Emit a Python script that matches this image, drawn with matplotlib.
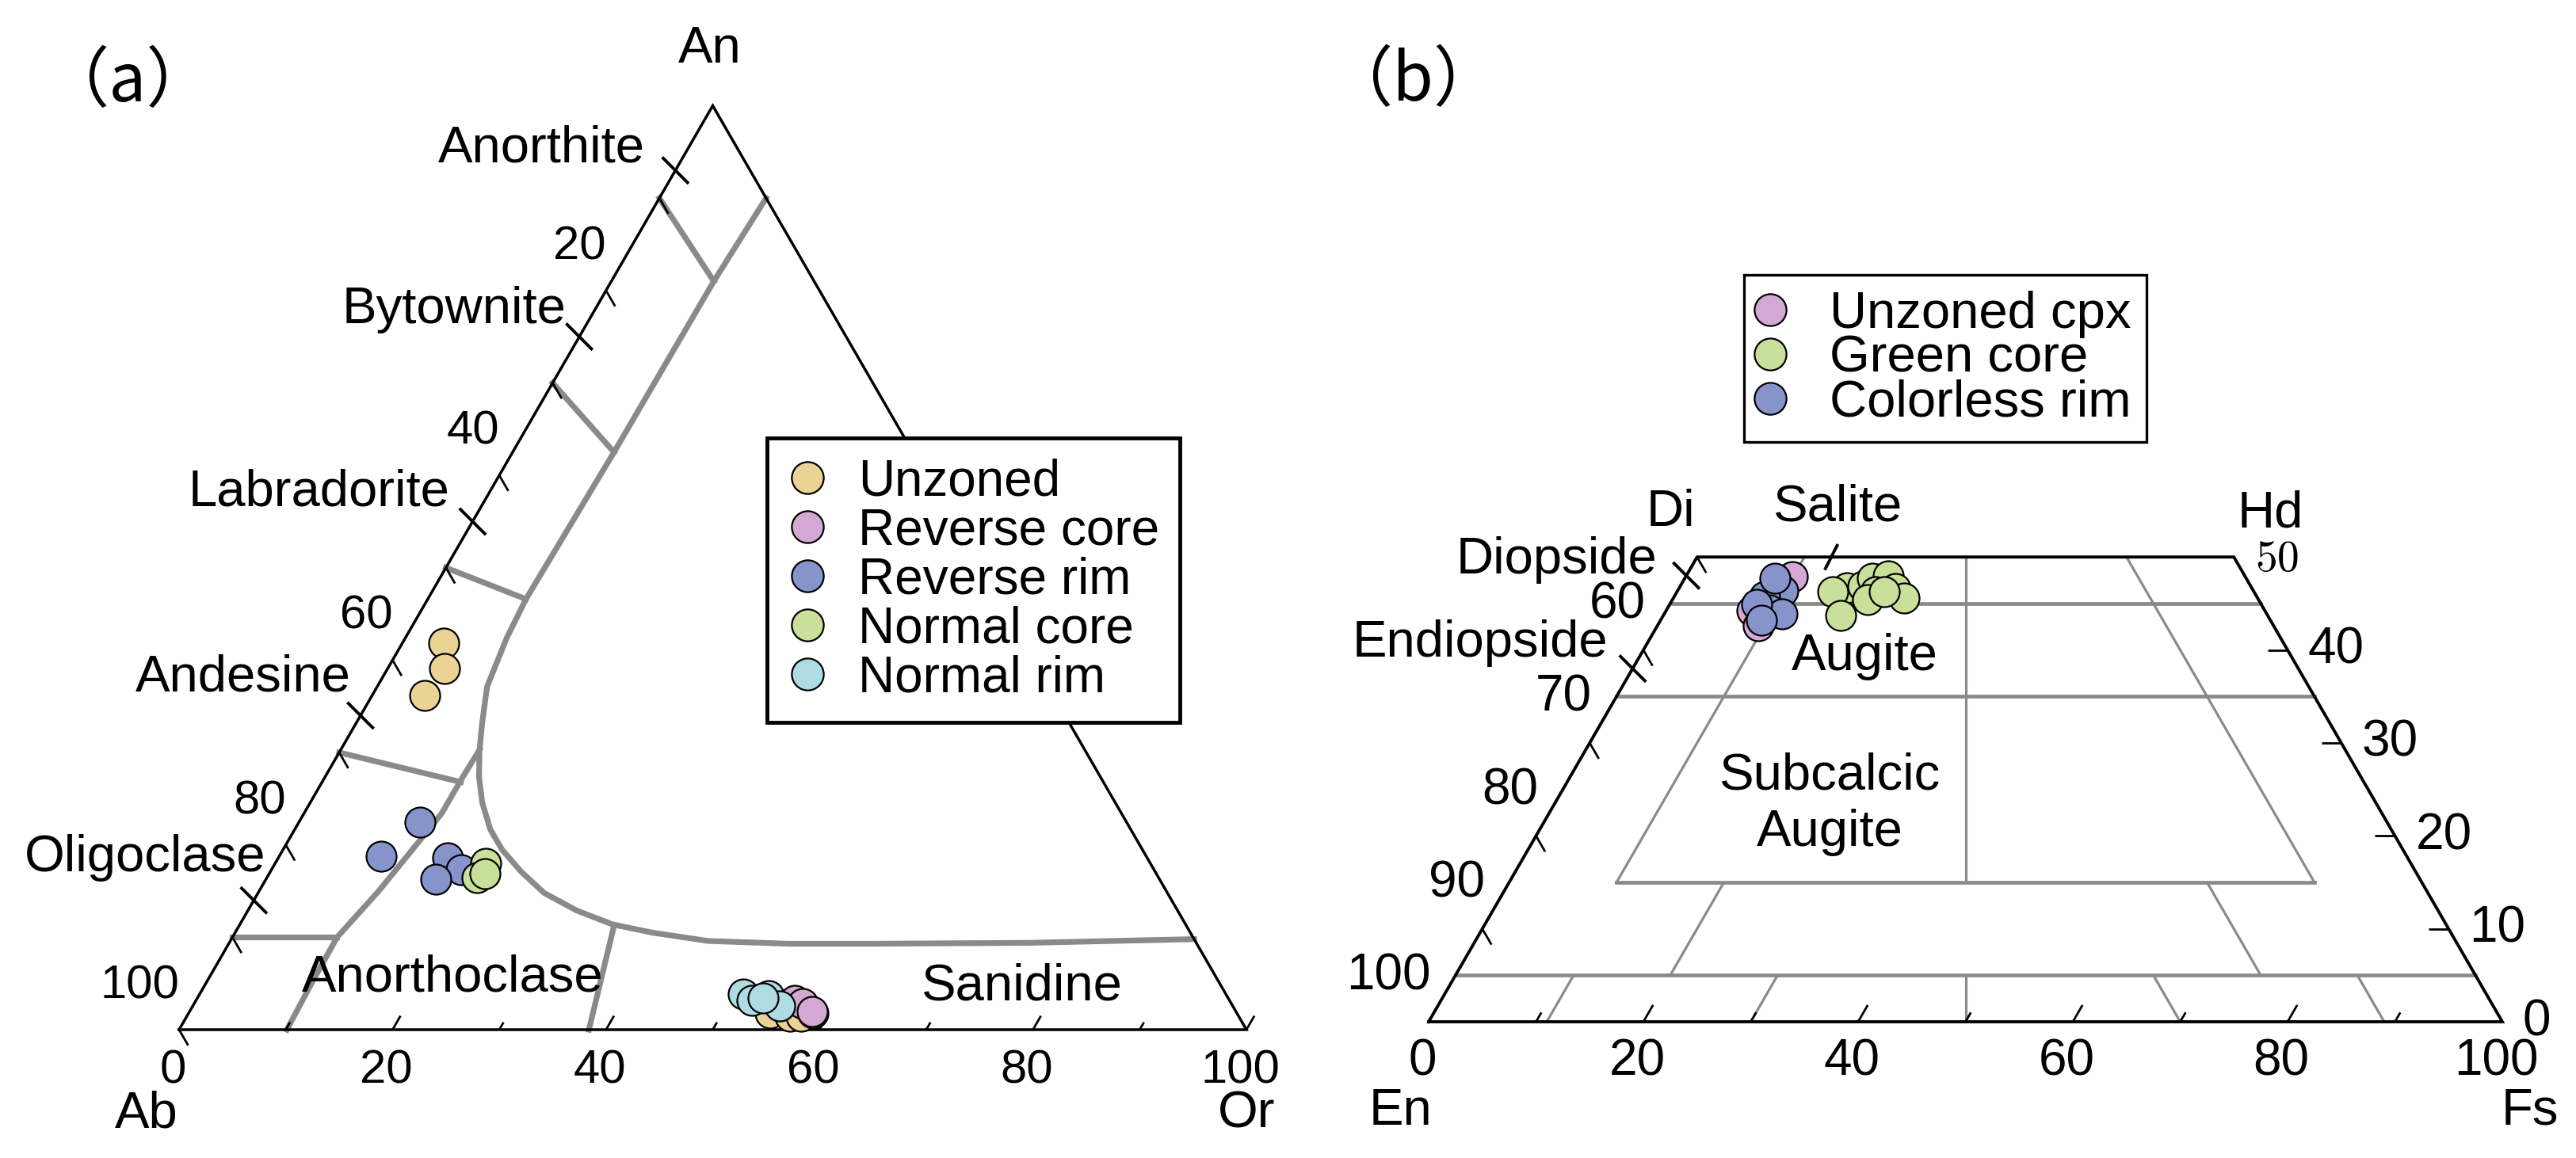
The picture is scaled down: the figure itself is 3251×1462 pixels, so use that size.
import numpy as np
import matplotlib
matplotlib.use('Agg')
import matplotlib.pyplot as plt
from matplotlib.lines import Line2D

plt.rcParams['font.family'] = ['Liberation Sans', 'DejaVu Sans']
plt.rcParams['mathtext.fontset'] = 'cm'

R3 = np.sqrt(3) / 2

# ---------------- (a) feldspar, compositions in mol% (An, Or) ----------------
unzoned_an = [41.8, 39.1, 36.2, 1.8, 1.5, 1.5, 1.8]
unzoned_or = [3.9, 5.3, 4.9, 54.5, 56.5, 57.5, 58.5]
rev_core_an = [3.2, 2.8, 2.0]
rev_core_or = [56.1, 57.0, 58.3]
rev_rim_an = [22.5, 18.8, 18.6, 17.3, 16.3]
rev_rim_or = [11.3, 9.5, 15.9, 17.8, 15.9]
norm_core_an = [18.0, 16.5, 16.9]
norm_core_or = [19.7, 19.7, 20.2]
norm_rim_an = [3.9, 3.2, 3.7, 2.6, 3.4]
norm_rim_or = [50.9, 52.1, 53.4, 55.0, 53.0]

# field boundaries of the feldspar diagram (An, Or)
main_an = [90, 81, 62.5, 46.6, 42.4, 37.1, 33.2, 30.3, 27.4, 24.6, 21.7, 19.5,
           17.1, 14.8, 12.9, 11.4, 10.5, 9.6, 9.3, 9.3, 9.4, 9.8]
main_or = [10, 9.6, 9.5, 9.2, 9.5, 10.3, 11.8, 13.0, 14.4, 16.1, 18.3, 20.5,
           23.5, 26.8, 30.8, 34.9, 39.1, 44.8, 52.5, 60.2, 75.0, 90.2]
branch_an = [30.3, 27.2, 23.4, 20.4, 15.0, 10.0, 5.0, 0.0]
branch_or = [13.0, 12.9, 12.9, 12.3, 11.2, 9.8, 9.9, 10.1]
plag_lines = [((90, 0), (81, 9.6)), ((70, 0), (62.5, 9.5)), ((50, 0), (46.6, 9.2)),
              ((30, 0), (26.8, 13.0)), ((10, 0), (10, 9.8)), ((11.0, 35.2), (0, 38.4))]

plag_names = ['Anorthite', 'Bytownite', 'Labradorite', 'Andesine', 'Oligoclase']
plag_mark_an = [93, 75, 55, 34, 14]
plag_name_off = [(-38, 11), (-17, 17), (-29, 20), (-12, 31), (15, 37)]

legend_a = ['Unzoned', 'Reverse core', 'Reverse rim', 'Normal core', 'Normal rim']
colors_a = ['#EBD396', '#D3A9D3', '#8794CB', '#C9E09B', '#AEDCE2']

# ---------------- (b) pyroxene, compositions in mol% (Wo, Fs) ----------------
cpx_unzoned_wo = [47.9, 43.3, 44.2, 42.6]
cpx_unzoned_fs = [9.9, 9.2, 8.0, 9.4]
cpx_green_wo = [46.7, 46.3, 46.9, 47.7, 48.0, 46.6, 45.6, 43.7, 46.3, 45.4, 46.3]
cpx_green_fs = [15.6, 14.5, 17.0, 17.5, 18.8, 20.2, 21.5, 16.5, 18.5, 18.2, 19.3]
cpx_rim_wo = [46.4, 45.8, 44.3, 43.9, 44.9, 47.7, 43.2]
cpx_rim_fs = [9.8, 8.4, 9.6, 11.0, 8.1, 8.4, 9.4]

legend_b = ['Unzoned cpx', 'Green core', 'Colorless rim']
colors_b = ['#D3A9D3', '#C9E09B', '#8794CB']

# quadrilateral subdivisions ((Wo, Fs) -> (Wo, Fs)); Wo isolines drawn heavier
wo_isolines = [((45, 0), (45, 55)), ((35, 0), (35, 65)), ((15, 10), (15, 75)),
               ((5, 0), (5, 95))]
quad_lines = [((50, 10), (15, 10)), ((50, 40), (15, 75)), ((50, 25), (15, 42.5)),
              ((15, 20), (5, 20)), ((15, 65), (5, 75)), ((5, 47.5), (0, 50)),
              ((5, 11), (0, 11)), ((5, 30), (0, 30)), ((5, 65), (0, 70)),
              ((5, 84), (0, 89))]

# ---------------- layout ----------------
W, H = 3251, 1462
GRAY = '#8a8a8a'
FS = 47


def xy(top, right):
    top = np.asarray(top, float)
    right = np.asarray(right, float)
    return right + top / 2, top * R3


def tick(ax, top, right, d, length, lw):
    x, y = xy(top, right)
    ax.plot([x, x + d[0] * length], [y, y + d[1] * length], color='k', lw=lw,
            solid_capstyle='butt', zorder=4)


def cross(ax, top, right, d, length, lw):
    x, y = xy(top, right)
    ax.plot([x - d[0] * length / 2, x + d[0] * length / 2],
            [y - d[1] * length / 2, y + d[1] * length / 2], color='k', lw=lw,
            solid_capstyle='butt', zorder=4)


def label(ax, top, right, s, off, **kw):
    ax.annotate(s, xy=xy(top, right), xytext=off, textcoords='offset pixels',
                annotation_clip=False, **kw)


fig = plt.figure(figsize=(W / 100, H / 100), dpi=100)

# panel (a): Ab corner at (226, 1300) px, 13.47 px per unit
ax_a = fig.add_axes([0, 0, 1640 / W, 1])
ax_a.set_xlim(-226 / 13.47, (1640 - 226) / 13.47)
ax_a.set_ylim((1300 - H) / 13.47, 1300 / 13.47)
ax_a.axis('off')

# panel (b): En corner at (1803, 1290) px, 13.55 px per unit
ax_b = fig.add_axes([1640 / W, 0, (W - 1640) / W, 1])
ax_b.set_xlim((1640 - 1803) / 13.55, (W - 1803) / 13.55)
ax_b.set_ylim((1290 - H) / 13.55, 1290 / 13.55)
ax_b.axis('off')

# ---- (a) drawing ----
ax_a.plot(*xy(main_an, main_or), color=GRAY, lw=5.2, zorder=2,
          solid_joinstyle='round')
ax_a.plot(*xy(branch_an, branch_or), color=GRAY, lw=5.2, zorder=2,
          solid_joinstyle='round')
for (p0, p1) in plag_lines:
    ax_a.plot(*xy([p0[0], p1[0]], [p0[1], p1[1]]), color=GRAY, lw=5.2, zorder=2)

ax_a.plot(*xy([0, 0, 100, 0], [0, 100, 0, 0]), color='k', lw=2.5, zorder=3,
          solid_joinstyle='miter')

for v in range(0, 101, 10):
    tick(ax_a, 100 - v, 0, (0.5, -R3), 1.7, 2.0)
    if v > 0:
        tick(ax_a, 0, v, (0.5, R3), 1.5 if v % 20 == 0 else 0.8, 2.0)
for v in range(20, 101, 20):
    label(ax_a, 100 - v, 0, str(v), (0, 55), ha='right', va='center', fontsize=43)
for v in range(0, 101, 20):
    label(ax_a, 0, v, str(v), (-8, -52), ha='center', va='center', fontsize=43)

for name, m, off in zip(plag_names, plag_mark_an, plag_name_off):
    cross(ax_a, m, 0, (0.7071, -0.7071), 3.5, 2.8)
    label(ax_a, m, 0, name, off, ha='right', va='baseline', fontsize=FS)

label(ax_a, 100, 0, 'An', (-4, 71), ha='center', va='center', fontsize=FS)
label(ax_a, 0, 0, 'Ab', (-41, -106), ha='center', va='center', fontsize=FS)
label(ax_a, 0, 100, 'Or', (0, -106), ha='center', va='center', fontsize=FS)
ax_a.text(*xy(5.6, 22.8), 'Anorthoclase', ha='center', va='center', fontsize=FS)
ax_a.text(*xy(4.7, 76.6), 'Sanidine', ha='center', va='center', fontsize=FS)

series_a = [(unzoned_an, unzoned_or), (rev_core_an, rev_core_or),
            (rev_rim_an, rev_rim_or), (norm_core_an, norm_core_or),
            (norm_rim_an, norm_rim_or)]
for (an, orr), c in zip(series_a, colors_a):
    ax_a.scatter(*xy(an, orr), s=750, c=c, edgecolors='k', linewidths=1.6, zorder=5)

handles_a = [Line2D([], [], ls='none', marker='o', markersize=29, markerfacecolor=c,
                    markeredgecolor='k', markeredgewidth=1.6) for c in colors_a]
leg_a = ax_a.legend(handles_a, legend_a, loc='upper left',
                    bbox_to_anchor=(968 / W, 1 - 553 / H), bbox_transform=fig.transFigure,
                    fontsize=46, frameon=True, fancybox=False, framealpha=1,
                    borderpad=0.4, handlelength=0.8, handletextpad=0.6,
                    labelspacing=0.03, borderaxespad=0)
leg_a.get_frame().set_edgecolor('k')
leg_a.get_frame().set_linewidth(3.5)
leg_a.set_zorder(10)

# ---- (b) drawing ----
for (p0, p1) in wo_isolines:
    ax_b.plot(*xy([p0[0], p1[0]], [p0[1], p1[1]]), color=GRAY, lw=3.4, zorder=2)
for (p0, p1) in quad_lines:
    ax_b.plot(*xy([p0[0], p1[0]], [p0[1], p1[1]]), color=GRAY, lw=2.3, zorder=2)

ax_b.plot(*xy([0, 0, 50, 50, 0], [0, 100, 50, 0, 0]), color='k', lw=2.8, zorder=3,
          solid_joinstyle='miter')

for wo in range(10, 51, 10):
    tick(ax_b, wo, 0, (0.5, -R3), 1.7, 2.0)
for wo in range(10, 50, 10):
    tick(ax_b, wo, 100 - wo, (-1, 0), 1.85, 2.0)
for v in range(10, 100, 10):
    tick(ax_b, 0, v, (0.5, R3), 1.8 if v % 20 == 0 else 1.0, 2.0)

for v in range(60, 101, 10):
    label(ax_b, 100 - v, 0, str(v), (3, 57), ha='right', va='center', fontsize=46)
for v in range(0, 101, 20):
    label(ax_b, 0, v, str(v), (-8, -50), ha='center', va='center', fontsize=46)
for wo in range(0, 41, 10):
    label(ax_b, wo, 100 - wo, str(wo), (26, 0), ha='left', va='center', fontsize=46)
label(ax_b, 50, 50, r'$50$', (27, -4), ha='left', va='center', fontsize=40)

cross(ax_b, 48, 0, (0.7071, -0.7071), 3.5, 2.8)
label(ax_b, 48, 0, 'Diopside', (-37, 3), ha='right', va='baseline', fontsize=FS)
cross(ax_b, 38, 0, (0.7071, -0.7071), 3.5, 2.8)
label(ax_b, 38, 0, 'Endiopside', (-31, 15), ha='right', va='baseline', fontsize=FS)
cross(ax_b, 50, 12.5, (-0.45, -0.89), 2.7, 2.8)
label(ax_b, 50, 12.5, 'Salite', (8, 46), ha='center', va='baseline', fontsize=FS)

label(ax_b, 50, 0, 'Di', (-33, 56), ha='center', va='center', fontsize=FS)
label(ax_b, 50, 50, 'Hd', (46, 55), ha='center', va='center', fontsize=FS)
label(ax_b, 0, 0, 'En', (-35, -113), ha='center', va='center', fontsize=FS)
label(ax_b, 0, 100, 'Fs', (35, -113), ha='center', va='center', fontsize=FS)
ax_b.text(*xy(39.3, 21.0), 'Augite', ha='center', va='center', fontsize=FS)
ax_b.text(*xy(23.4, 25.7), 'Subcalcic\nAugite', ha='center', va='center',
          fontsize=FS, linespacing=1.25)

series_b = [(cpx_unzoned_wo, cpx_unzoned_fs), (cpx_green_wo, cpx_green_fs),
            (cpx_rim_wo, cpx_rim_fs)]
for (wo, fs), c in zip(series_b, colors_b):
    ax_b.scatter(*xy(wo, fs), s=750, c=c, edgecolors='k', linewidths=1.6, zorder=5)

handles_b = [Line2D([], [], ls='none', marker='o', markersize=29, markerfacecolor=c,
                    markeredgecolor='k', markeredgewidth=1.6) for c in colors_b]
leg_b = ax_b.legend(handles_b, legend_b, loc='upper left',
                    bbox_to_anchor=(2201 / W, 1 - 347 / H), bbox_transform=fig.transFigure,
                    fontsize=47, frameon=True, fancybox=False, framealpha=1,
                    borderpad=0.3, handlelength=0.4, handletextpad=0.95,
                    labelspacing=-0.06, borderaxespad=0)
leg_b.get_frame().set_edgecolor('k')
leg_b.get_frame().set_linewidth(2.4)

cjk = ['Noto Sans CJK SC', 'DejaVu Sans']
fig.text(161 / W, 1 - 104 / H, '（a）', family=cjk, fontsize=60, ha='center', va='center')
fig.text(1783 / W, 1 - 103 / H, '（b）', family=cjk, fontsize=60, ha='center', va='center')

fig.savefig('out.png', dpi=100, facecolor='white')
